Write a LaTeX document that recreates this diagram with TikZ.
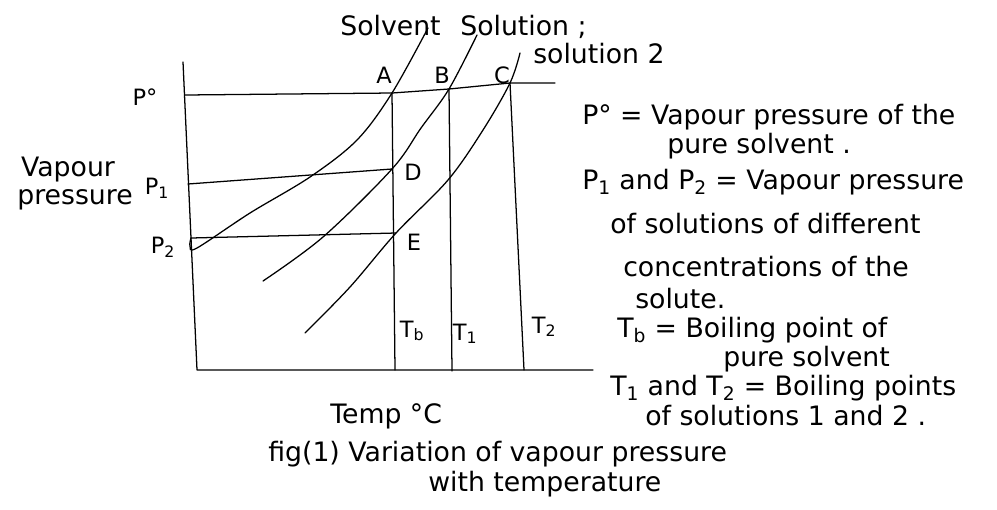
\documentclass[tikz,border=0pt]{standalone}
\usepackage{fontspec}
\setmainfont{DejaVu Sans}
\usetikzlibrary{positioning}

\begin{document}
\begin{tikzpicture}[x=0.025cm, y=-0.025cm,
  ln/.style={line width=0.9pt, line cap=round, line join=round},
  curve/.style={line width=0.9pt, line cap=round, smooth, tension=0.55},
  ptlbl/.style={font=\fontsize{16}{18}\selectfont, inner sep=0pt},
  lbl/.style={font=\fontsize{19}{22}\selectfont, inner sep=0pt, anchor=base west},
  note/.style={font=\fontsize{19}{22}\selectfont, inner sep=0pt, anchor=base west},
]
  \useasboundingbox (0,0) rectangle (997,509);

  % axes
  \coordinate (yTop) at (183,62);
  \coordinate (O)    at (197,370);
  \coordinate (xEnd) at (593,370);
  \draw[ln] (yTop) -- (O) -- (xEnd);

  % points on the curves
  \coordinate (A) at (392,93);
  \coordinate (B) at (449,89);
  \coordinate (C) at (510,83);
  \coordinate (D) at (392,169);
  \coordinate (E) at (396,233);
  \coordinate (Tb) at (395,370);
  \coordinate (T1) at (452,371);
  \coordinate (T2) at (524,370);
  \coordinate (p0L) at (185,95);
  \coordinate (p0R) at (555,83);
  \coordinate (p1L) at (188,184);
  \coordinate (p2L) at (191,238);

  % pressure and temperature lines
  \draw[ln] (p0L) -- (A) -- (B) -- (C) -- (p0R);
  \draw[ln] (p1L) -- (D);
  \draw[ln] (p2L) -- (E);
  \draw[ln] (A) -- (Tb);
  \draw[ln] (B) -- (T1);
  \draw[ln] (C) -- (T2);

  % vapour pressure curves
  \draw[curve] plot coordinates {(p2L) (190,246) (197,248) (250,213) (310,177) (357,140) (A) (428,28)};
  \draw[curve] plot coordinates {(263,281) (323,237) (D) (421,128) (B) (477,35)};
  \draw[curve] plot coordinates {(305,333) (350,287) (E) (448,180) (483,130) (C) (520,53)};

  % curve names
  \node[lbl] (solvent) at (340,35) {Solvent};
  \node[lbl] (soln1) at (460,35) {Solution ;};
  \node[lbl] (soln2) at (533,63) {solution 2};

  % point labels
  \node[ptlbl, anchor=base] (labA) at (384,83) {A};
  \node[ptlbl, anchor=base] (labB) at (442,83) {B};
  \node[ptlbl, anchor=base] (labC) at (502,83) {C};
  \node[ptlbl, anchor=base] (labD) at (413,180) {D};
  \node[ptlbl, anchor=base] (labE) at (414,250) {E};
  \node[ptlbl, anchor=base] (labTb) at (412,337) {T\textsubscript{b}};
  \node[ptlbl, anchor=base] (labT1) at (465,340) {T\textsubscript{1}};
  \node[ptlbl, anchor=base] (labT2) at (544,333) {T\textsubscript{2}};
  \node[ptlbl] (labP0) at (145,97) {P°};
  \node[ptlbl] (labP1) at (157,188) {P\textsubscript{1}};
  \node[ptlbl] (labP2) at (163,247) {P\textsubscript{2}};

  % axis titles
  \node[note, anchor=base] (vap) at (68,176) {Vapour};
  \node[note, anchor=base] (pres) at (75,204) {pressure};
  \node[note] (temp) at (330,423) {Temp °C};

  % caption
  \node[note] (cap1) at (268,461) {fig(1) Variation of vapour pressure};
  \node[note] (cap2) at (428,491) {with temperature};

  % key
  \node[note] (k1) at (582,124) {P° = Vapour pressure of the};
  \node[note] (k2) at (667,153) {pure solvent .};
  \node[note] (k3) at (582,189) {P\textsubscript{1} and P\textsubscript{2} = Vapour pressure};
  \node[note] (k4) at (610,233) {of solutions of different};
  \node[note] (k5) at (623,276) {concentrations of the};
  \node[note] (k6) at (635,308) {solute.};
  \node[note] (k7) at (617,337) {T\textsubscript{b} = Boiling point of};
  \node[note] (k8) at (723,366) {pure solvent};
  \node[note] (k9) at (610,395) {T\textsubscript{1} and T\textsubscript{2} = Boiling points};
  \node[note] (k10) at (645,425) {of solutions 1 and 2 .};
\end{tikzpicture}
\end{document}
